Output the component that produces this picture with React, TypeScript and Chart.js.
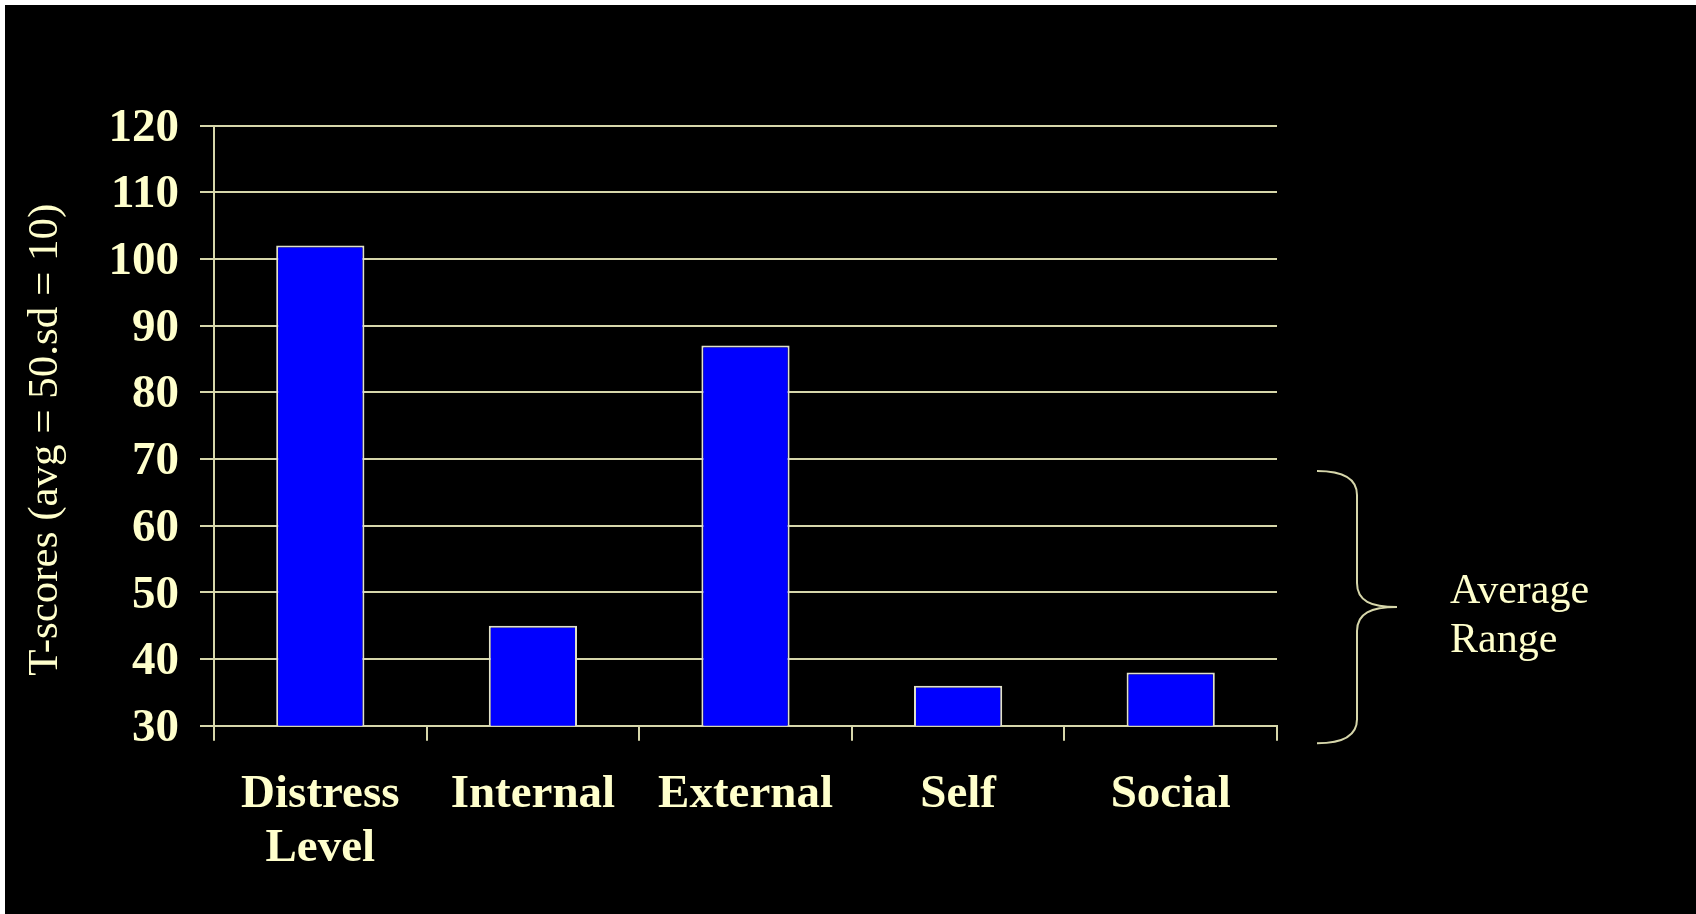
import React, { useEffect, useRef } from "react";
import { Chart, registerables } from "chart.js";

Chart.register(...registerables);

// ---- data ----
const categories: (string | string[])[] = [["Distress", "Level"], "Internal", "External", "Self", "Social"];
const tScores: number[] = [102, 45, 87, 36, 38];
const yMin = 30;
const yMax = 120;
const yStep = 10;
const yAxisTitle = "T-scores (avg = 50.sd = 10)";
const rangeLabel: string[] = ["Average", "Range"];
const rangeTop = 68.2;
const rangeBottom = 27.4;

// ---- style ----
const CREAM = "#FFFFCC";
const LINE = "rgb(214,214,170)";
const SERIF = '"Liberation Serif", "Times New Roman", serif';

const annotationPlugin = {
  id: "averageRangeBrace",
  afterDraw(chart: any) {
    const { ctx, chartArea, scales } = chart;
    const y = scales.y;

    // y-axis title (rotated)
    ctx.save();
    ctx.fillStyle = CREAM;
    ctx.font = `43px ${SERIF}`;
    ctx.textAlign = "center";
    ctx.textBaseline = "middle";
    ctx.translate(41, (chartArea.top + chartArea.bottom) / 2 + 14);
    ctx.rotate(-Math.PI / 2);
    ctx.fillText(yAxisTitle, 0, 0);
    ctx.restore();

    // brace
    const x0 = chartArea.right + 40;
    const xs = x0 + 40;
    const xt = x0 + 80;
    const yTop = y.getPixelForValue(rangeTop);
    const yBot = y.getPixelForValue(rangeBottom);
    const yMid = (yTop + yBot) / 2;
    ctx.save();
    ctx.strokeStyle = LINE;
    ctx.lineWidth = 2;
    ctx.beginPath();
    ctx.moveTo(x0, yTop);
    ctx.bezierCurveTo(x0 + 24, yTop, xs, yTop + 6, xs, yTop + 24);
    ctx.lineTo(xs, yMid - 24);
    ctx.bezierCurveTo(xs, yMid - 6, xs + 14, yMid, xt, yMid);
    ctx.bezierCurveTo(xs + 14, yMid, xs, yMid + 6, xs, yMid + 24);
    ctx.lineTo(xs, yBot - 24);
    ctx.bezierCurveTo(xs, yBot - 6, x0 + 24, yBot, x0, yBot);
    ctx.stroke();

    ctx.fillStyle = CREAM;
    ctx.font = `42px ${SERIF}`;
    ctx.textAlign = "left";
    ctx.textBaseline = "alphabetic";
    const tx = chartArea.right + 173;
    ctx.fillText(rangeLabel[0], tx, yMid - 4);
    ctx.fillText(rangeLabel[1], tx, yMid + 45);
    ctx.restore();
  },
};

export default function App() {
  const canvasRef = useRef<HTMLCanvasElement | null>(null);

  useEffect(() => {
    if (!canvasRef.current) return;
    const chart = new Chart(canvasRef.current, {
      type: "bar",
      data: {
        labels: categories,
        datasets: [
          {
            data: tScores,
            backgroundColor: "#0000FF",
            borderColor: "rgb(225,225,200)",
            borderWidth: 2,
            barPercentage: 1,
            categoryPercentage: 0.415,
          },
        ],
      },
      options: {
        responsive: false,
        animation: false,
        devicePixelRatio: 1,
        layout: { padding: { left: 0, top: 120.5, right: 419, bottom: 0 } },
        plugins: {
          legend: { display: false },
          tooltip: { enabled: false },
          title: { display: false },
        },
        scales: {
          x: {
            afterFit: (s: any) => {
              s.height = 188.2;
            },
            grid: {
              display: true,
              drawOnChartArea: false,
              drawTicks: true,
              tickLength: 15,
              color: LINE,
              lineWidth: 2,
              offset: true,
            },
            border: { display: true, color: LINE, width: 2 },
            ticks: {
              color: CREAM,
              padding: 28,
              font: { family: SERIF, size: 47, weight: "bold", lineHeight: 1.13 },
              maxRotation: 0,
              autoSkip: false,
            },
          },
          y: {
            min: yMin,
            max: yMax,
            afterFit: (s: any) => {
              s.width = 209;
            },
            grid: {
              color: LINE,
              lineWidth: 2,
              drawTicks: true,
              tickLength: 14,
            },
            border: { display: true, color: LINE, width: 2 },
            ticks: {
              stepSize: yStep,
              color: CREAM,
              padding: 21,
              labelOffset: 3,
              font: { family: SERIF, size: 47, weight: "bold" },
            },
            title: { display: false },
          },
        },
      },
      plugins: [annotationPlugin],
    });
    return () => chart.destroy();
  }, []);

  return (
    <div style={{ position: "fixed", left: 0, top: 0, width: 1696, height: 914, background: "#ffffff" }}>
      <div style={{ position: "absolute", left: 5, top: 5, width: 1691, height: 909, background: "#000000" }}>
        <canvas ref={canvasRef} width={1691} height={909} style={{ display: "block", width: 1691, height: 909 }} />
      </div>
    </div>
  );
}
